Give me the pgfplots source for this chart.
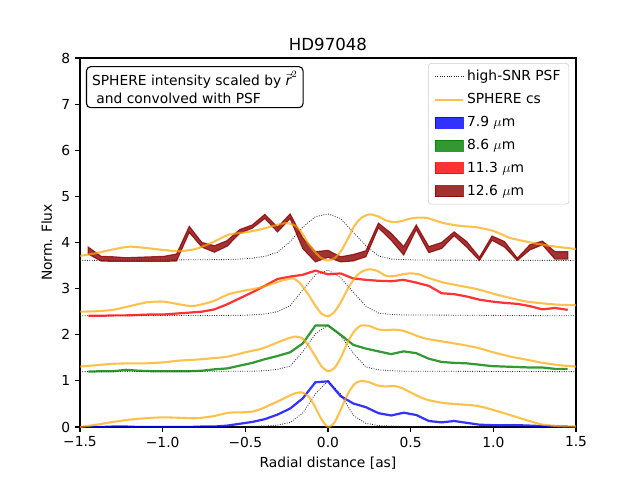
\documentclass[border=0pt]{standalone}
\usepackage{pgfplots}
\pgfplotsset{compat=1.18}
\usepackage{fontspec}
\setmainfont{DejaVu Sans}
\definecolor{mplorange}{RGB}{255,165,0}
\definecolor{mpldarkred}{RGB}{139,0,0}
\definecolor{mplgreen}{RGB}{0,128,0}
\definecolor{mplblue}{RGB}{0,0,255}
\definecolor{mplred}{RGB}{255,0,0}
\pgfplotsset{
 mypatch/.style={legend image code/.code={\draw[##1, sharp corners] (0cm,-0.14cm) rectangle (0.72cm,0.14cm);}},
 myline/.style={legend image code/.code={\draw[##1, sharp corners] (0cm,0cm) -- (0.72cm,0cm);}},
 psf/.style={black!85, line width=0.6pt, dash pattern=on 0.6pt off 1.1pt},
 cs/.style={mplorange, opacity=0.7, line width=1.5pt},
 band/.style={line width=1.6pt, opacity=0.8},
}
\begin{document}
\begin{tikzpicture}
\useasboundingbox (-0.8in,-0.53in) rectangle (5.6in,4.27in);
\begin{axis}[
 at={(0,0)}, anchor=south west, scale only axis,
 width=4.96in, height=3.69in,
 xmin=-1.5, xmax=1.5, ymin=0, ymax=8,
 xtick={-1.5,-1,-0.5,0,0.5,1,1.5},
 xticklabels={−1.5,−1.0,−0.5,0.0,0.5,1.0,1.5},
 ytick={0,1,2,3,4,5,6,7,8},
 yticklabels={0,1,2,3,4,5,6,7,8},
 tick align=outside, xtick pos=bottom, ytick pos=left,
 major tick length=3.5pt,
 every tick/.style={black, line width=0.8pt},
 axis line style={line width=0.8pt},
 tick label style={font=\fontsize{10}{12}\selectfont},
 label style={font=\fontsize{10}{12}\selectfont},
 title={HD97048},
 title style={font=\fontsize{12}{14}\selectfont, yshift=-4pt},
 xlabel={Radial distance [as]},
 ylabel={Norm. Flux},
 legend cell align=left,
 legend style={at={(0.986,0.986)}, anchor=north east, draw=black!20,
   rounded corners=2pt, fill=white, fill opacity=0.8, text opacity=1,
   draw opacity=1, font=\fontsize{10}{12}\selectfont, row sep=3.6pt,
   inner xsep=4pt, inner ysep=3pt},
]
% ---------- PSFs ----------
\addplot[psf, forget plot] coordinates {(-1.5,0.005) (-0.534,0.01) (-0.458,0.015) (-0.382,0.02) (-0.305,0.04) (-0.229,0.10) (-0.153,0.30) (-0.076,0.72) (0,1.0) (0.076,0.72) (0.153,0.25) (0.229,0.08) (0.305,0.03) (0.382,0.02) (0.458,0.015) (0.534,0.01) (1.5,0.005)};
\addplot[psf, forget plot] coordinates {(-1.5,1.20) (-0.458,1.21) (-0.382,1.22) (-0.305,1.25) (-0.229,1.32) (-0.153,1.63) (-0.076,2.02) (0,2.21) (0.076,1.98) (0.153,1.60) (0.229,1.30) (0.305,1.24) (0.382,1.22) (0.458,1.21) (1.5,1.20)};
\addplot[psf, forget plot] coordinates {(-1.5,2.41) (-0.534,2.42) (-0.458,2.43) (-0.382,2.45) (-0.305,2.50) (-0.229,2.63) (-0.153,2.97) (-0.076,3.30) (0,3.40) (0.076,3.24) (0.153,2.92) (0.229,2.62) (0.305,2.47) (0.382,2.44) (0.458,2.43) (1.5,2.41)};
\addplot[psf, forget plot] coordinates {(-1.5,3.61) (-0.610,3.63) (-0.534,3.64) (-0.458,3.66) (-0.382,3.70) (-0.305,3.79) (-0.229,4.02) (-0.153,4.33) (-0.076,4.56) (0,4.62) (0.076,4.52) (0.153,4.22) (0.229,3.93) (0.305,3.71) (0.382,3.64) (0.458,3.63) (0.534,3.62) (1.5,3.61)};
% ---------- 7.9 um ----------
\addplot[band, mplblue, forget plot] coordinates {
(-1.450,0.00) (-1.373,0.00) (-1.297,0.01) (-1.221,0.01) (-1.145,0.00) (-1.068,0.00) (-0.992,0.00) (-0.916,0.00) (-0.839,0.00) (-0.763,0.01) (-0.687,0.01) (-0.610,0.03) (-0.534,0.07) (-0.458,0.11) (-0.382,0.17) (-0.305,0.27) (-0.229,0.40) (-0.153,0.62) (-0.076,0.97) (0,0.99)
(0.076,0.67) (0.153,0.51) (0.229,0.43) (0.305,0.30) (0.382,0.25) (0.458,0.31) (0.534,0.26) (0.610,0.13) (0.687,0.10) (0.763,0.13) (0.839,0.09) (0.916,0.05) (0.992,0.04) (1.068,0.04) (1.145,0.04) (1.221,0.03) (1.297,0.02) (1.373,0.01) (1.450,0.01)};
% ---------- 8.6 um ----------
\addplot[band, mplgreen, forget plot] coordinates {
(-1.450,1.20) (-1.373,1.21) (-1.297,1.21) (-1.221,1.24) (-1.145,1.22) (-1.068,1.21) (-0.992,1.21) (-0.916,1.21) (-0.839,1.21) (-0.763,1.22) (-0.687,1.25) (-0.610,1.27) (-0.534,1.33) (-0.458,1.39) (-0.382,1.47) (-0.305,1.54) (-0.229,1.62) (-0.153,1.81) (-0.076,2.20) (0,2.20)
(0.076,2.00) (0.153,1.78) (0.229,1.70) (0.305,1.64) (0.382,1.58) (0.458,1.64) (0.534,1.60) (0.610,1.48) (0.687,1.41) (0.763,1.39) (0.839,1.38) (0.916,1.35) (0.992,1.32) (1.068,1.31) (1.145,1.30) (1.221,1.29) (1.297,1.29) (1.373,1.26) (1.450,1.26)};
% ---------- 11.3 um ----------
\addplot[band, mplred, forget plot] coordinates {
(-1.450,2.41) (-1.373,2.41) (-1.297,2.42) (-1.221,2.42) (-1.145,2.43) (-1.068,2.44) (-0.992,2.44) (-0.916,2.46) (-0.839,2.48) (-0.763,2.50) (-0.687,2.55) (-0.610,2.66) (-0.534,2.79) (-0.458,2.92) (-0.382,3.06) (-0.305,3.21) (-0.229,3.26) (-0.153,3.30) (-0.076,3.39) (0,3.31)
(0.076,3.33) (0.153,3.22) (0.229,3.19) (0.305,3.17) (0.382,3.16) (0.458,3.19) (0.534,3.13) (0.610,3.06) (0.687,2.90) (0.763,2.88) (0.839,2.83) (0.916,2.76) (0.992,2.72) (1.068,2.69) (1.145,2.67) (1.221,2.62) (1.297,2.55) (1.373,2.58) (1.450,2.54)};
% ---------- 12.6 um band (upper forward, lower backward) ----------
\addplot[fill=mpldarkred, draw=mpldarkred, line width=0.8pt, fill opacity=0.8, draw opacity=0.8, forget plot] coordinates {
(-1.450,3.90) (-1.373,3.70) (-1.297,3.69) (-1.221,3.67) (-1.145,3.68) (-1.068,3.69) (-0.992,3.70) (-0.916,3.75) (-0.839,4.35) (-0.763,4.00) (-0.687,3.93) (-0.610,4.04) (-0.534,4.28) (-0.458,4.38) (-0.382,4.61) (-0.305,4.33) (-0.229,4.62) (-0.153,4.10) (-0.076,3.80) (0,3.83)
(0.076,3.69) (0.153,3.74) (0.229,3.82) (0.305,4.42) (0.382,4.20) (0.458,3.91) (0.534,4.38) (0.610,3.91) (0.687,4.00) (0.763,4.23) (0.839,4.02) (0.916,3.68) (0.992,4.14) (1.068,4.02) (1.145,3.66) (1.221,3.95) (1.297,4.03) (1.373,3.80) (1.450,3.80)
(1.450,3.64) (1.373,3.64) (1.297,3.95) (1.221,3.84) (1.145,3.61) (1.068,3.90) (0.992,4.05) (0.916,3.61) (0.839,3.90) (0.763,4.15) (0.687,3.87) (0.610,3.78) (0.534,4.28) (0.458,3.73) (0.382,4.05) (0.305,4.32) (0.229,3.69) (0.153,3.60) (0.076,3.58)
(0,3.68) (-0.076,3.58) (-0.153,3.87) (-0.229,4.52) (-0.305,4.23) (-0.382,4.52) (-0.458,4.31) (-0.534,4.20) (-0.610,3.92) (-0.687,3.79) (-0.763,3.90) (-0.839,4.22) (-0.916,3.60) (-0.992,3.59) (-1.068,3.59) (-1.145,3.59) (-1.221,3.59) (-1.297,3.59) (-1.373,3.60) (-1.450,3.75)} -- cycle;
% ---------- SPHERE cs ----------
\addplot[cs, smooth, tension=0.4, forget plot] coordinates {(-1.50,0.00) (-1.40,0.05) (-1.30,0.11) (-1.20,0.16) (-1.10,0.19) (-1.00,0.21) (-0.90,0.20) (-0.80,0.19) (-0.70,0.23) (-0.60,0.31) (-0.50,0.32) (-0.45,0.34) (-0.40,0.40) (-0.35,0.48) (-0.30,0.56) (-0.25,0.65) (-0.20,0.73) (-0.16,0.75) (-0.12,0.67) (-0.08,0.45) (-0.04,0.17) (0.00,0.00) (0.04,0.10) (0.08,0.40) (0.12,0.72) (0.16,0.93) (0.20,1.00) (0.25,0.97) (0.30,0.90) (0.35,0.88) (0.40,0.89) (0.45,0.84) (0.50,0.75) (0.55,0.66) (0.60,0.59) (0.70,0.52) (0.80,0.49) (0.90,0.46) (1.00,0.37) (1.10,0.26) (1.20,0.15) (1.30,0.05) (1.40,0.02) (1.50,0.01)};
\addplot[cs, smooth, tension=0.4, forget plot] coordinates {(-1.50,1.31) (-1.40,1.34) (-1.30,1.37) (-1.20,1.38) (-1.10,1.38) (-1.00,1.40) (-0.90,1.44) (-0.80,1.46) (-0.70,1.49) (-0.60,1.53) (-0.50,1.62) (-0.40,1.70) (-0.30,1.84) (-0.25,1.91) (-0.20,1.96) (-0.16,1.93) (-0.12,1.78) (-0.08,1.55) (-0.04,1.32) (0.00,1.21) (0.04,1.28) (0.08,1.52) (0.12,1.85) (0.16,2.08) (0.20,2.20) (0.25,2.19) (0.30,2.12) (0.35,2.10) (0.40,2.11) (0.45,2.09) (0.50,2.03) (0.55,1.96) (0.60,1.91) (0.70,1.85) (0.80,1.79) (0.90,1.72) (1.00,1.62) (1.10,1.53) (1.20,1.46) (1.30,1.39) (1.40,1.34) (1.50,1.31)};
\addplot[cs, smooth, tension=0.4, forget plot] coordinates {(-1.50,2.50) (-1.40,2.51) (-1.30,2.54) (-1.20,2.62) (-1.10,2.70) (-1.00,2.72) (-0.90,2.66) (-0.85,2.63) (-0.80,2.63) (-0.70,2.72) (-0.60,2.88) (-0.50,2.96) (-0.40,3.03) (-0.30,3.15) (-0.25,3.20) (-0.21,3.22) (-0.17,3.12) (-0.12,2.88) (-0.08,2.65) (-0.04,2.46) (0.00,2.40) (0.04,2.50) (0.08,2.72) (0.12,3.00) (0.16,3.22) (0.20,3.36) (0.25,3.42) (0.30,3.38) (0.35,3.28) (0.40,3.27) (0.45,3.31) (0.50,3.33) (0.55,3.31) (0.60,3.24) (0.70,3.13) (0.80,3.06) (0.90,2.99) (1.00,2.89) (1.10,2.80) (1.20,2.72) (1.30,2.68) (1.40,2.65) (1.50,2.64)};
\addplot[cs, smooth, tension=0.4, forget plot] coordinates {(-1.50,3.71) (-1.40,3.77) (-1.30,3.85) (-1.20,3.91) (-1.10,3.88) (-1.00,3.84) (-0.90,3.81) (-0.80,3.86) (-0.70,4.00) (-0.60,4.17) (-0.50,4.22) (-0.40,4.29) (-0.30,4.39) (-0.25,4.42) (-0.20,4.37) (-0.16,4.22) (-0.12,3.98) (-0.08,3.80) (-0.04,3.66) (0.00,3.61) (0.04,3.66) (0.08,3.82) (0.12,4.08) (0.16,4.36) (0.20,4.53) (0.25,4.61) (0.30,4.57) (0.35,4.48) (0.40,4.44) (0.45,4.47) (0.50,4.52) (0.55,4.54) (0.60,4.53) (0.70,4.42) (0.80,4.36) (0.90,4.33) (1.00,4.25) (1.10,4.10) (1.20,4.02) (1.30,3.95) (1.40,3.90) (1.50,3.86)};
% ---------- legend ----------
\addlegendimage{myline, psf}
\addlegendentry{high-SNR PSF}
\addlegendimage{myline, cs}
\addlegendentry{SPHERE cs}
\addlegendimage{mypatch, fill=mplblue, draw=mplblue, fill opacity=0.8, draw opacity=0.8}
\addlegendentry{7.9 $\mu$m}
\addlegendimage{mypatch, fill=mplgreen, draw=mplgreen, fill opacity=0.8, draw opacity=0.8}
\addlegendentry{8.6 $\mu$m}
\addlegendimage{mypatch, fill=mplred, draw=mplred, fill opacity=0.8, draw opacity=0.8}
\addlegendentry{11.3 $\mu$m}
\addlegendimage{mypatch, fill=mpldarkred, draw=mpldarkred, fill opacity=0.8, draw opacity=0.8}
\addlegendentry{12.6 $\mu$m}
% ---------- text box ----------
\node[draw=black, line width=0.8pt, rounded corners=3pt, fill=white, align=left,
  anchor=north west, inner xsep=4pt, inner ysep=3pt,
  font=\fontsize{10}{13}\selectfont] at (rel axis cs:0.012,0.978)
  {SPHERE intensity scaled by $\vec{\textit{r}}^{2}$\\\ and convolved with PSF};
\end{axis}
\end{tikzpicture}
\end{document}
